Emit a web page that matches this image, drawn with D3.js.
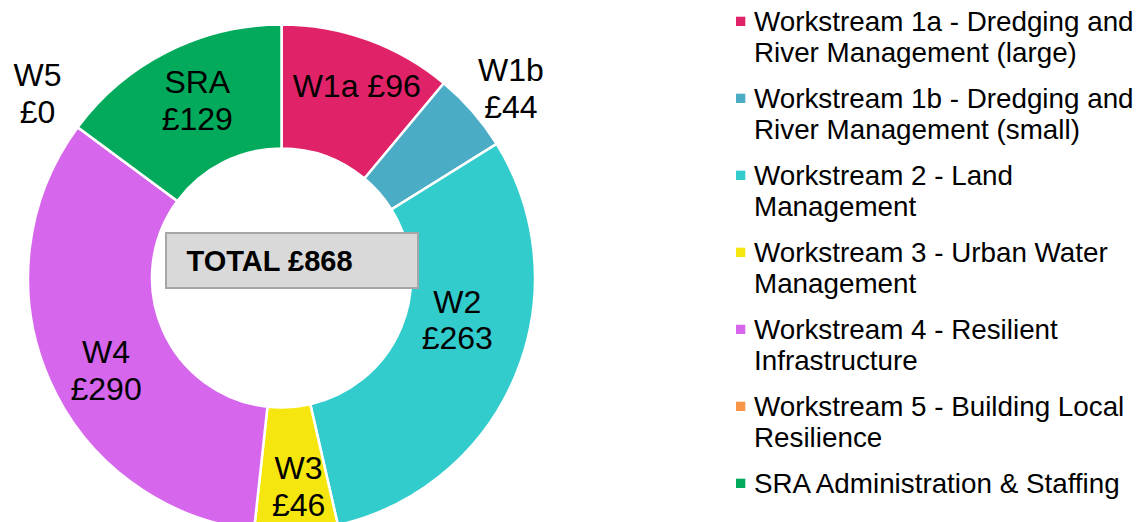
<!DOCTYPE html>
<html>
<head>
<meta charset="utf-8">
<script src="https://cdn.jsdelivr.net/npm/d3@7"></script>
<style>
  body { margin: 0; background: #fff; }
  svg text { font-family: "Liberation Sans", Arial, sans-serif; fill: #000; }
</style>
</head>
<body>
<svg id="chart" width="1140" height="522"></svg>
<script>
// chart data, clockwise from 12 o'clock
const keys = ["W1a", "W1b", "W2", "W3", "W4", "W5", "SRA"];
const values = [96, 44, 263, 46, 290, 0, 129];
const colors = ["#e02368", "#4bacc6", "#33cccc", "#f6e60f", "#d666ec", "#f79646", "#03aa5b"];
const legendLines = [
    ["Workstream 1a - Dredging and", "River Management (large)"],
    ["Workstream 1b - Dredging and", "River Management (small)"],
    ["Workstream 2 - Land", "Management"],
    ["Workstream 3 - Urban Water", "Management"],
    ["Workstream 4 - Resilient", "Infrastructure"],
    ["Workstream 5 - Building Local", "Resilience"],
    ["SRA Administration & Staffing"]
];
// labels that read on one line
const oneLine = ["W1a"];

let svg = d3.select("#chart");
let cx = 281.5, cy = 278;
let outerR = 253.5, innerR = 129.5;

let pie = d3.pie().sort(null).value(d => d.value);
let arcs = pie(keys.map((k, i) => ({key: k, value: values[i], color: colors[i]})));

let arc = d3.arc().innerRadius(innerR).outerRadius(outerR);

let g = svg.append("g").attr("transform", "translate(" + cx + "," + cy + ")");

g.selectAll("path")
    .data(arcs)
    .enter().append("path")
    .attr("d", arc)
    .style("fill", d => d.data.color)
    .style("stroke", "#fff")
    .style("stroke-width", 2.5);

// label placement: centroid of each slice, nudged to where the original sits
let nudge = {
    W1a: [10, -12], W1b: [85, -64], W2: [-1, -32], W3: [6, 17],
    W4: [0, 15], W5: [-90, -71], SRA: [2, -7]
};
let lineGap = 36.7;
let labelSize = 32;

arcs.forEach(function(d) {
    let c = arc.centroid(d);
    let n = nudge[d.data.key];
    let lx = c[0] + n[0], ly = c[1] + n[1];
    let lines = oneLine.includes(d.data.key)
        ? [d.data.key + " £" + d.data.value]
        : [d.data.key, "£" + d.data.value];
    let t = g.append("text")
        .attr("text-anchor", "middle")
        .style("font-size", labelSize + "px");
    lines.forEach(function(s, i) {
        t.append("tspan")
            .attr("x", lx)
            .attr("y", ly - (lines.length - 1) / 2 * lineGap + i * lineGap + labelSize * 0.358)
            .text(s);
    });
});

// total box in the hole
let total = d3.sum(values);
g.append("rect")
    .attr("x", -115.5)
    .attr("y", -45)
    .attr("width", 252)
    .attr("height", 55)
    .style("fill", "#d9d9d9")
    .style("stroke", "#a6a6a6")
    .style("stroke-width", 2);
g.append("text")
    .attr("x", -95)
    .attr("y", -7.5)
    .style("font-size", "29px")
    .style("font-weight", "bold")
    .text("TOTAL £" + total);

// legend
let legend = svg.append("g").attr("transform", "translate(736,0)");
let itemStep = 77, rowStep = 31, firstBase = 31;

let items = legend.selectAll("g.item")
    .data(legendLines)
    .enter().append("g")
    .attr("class", "item")
    .attr("transform", (d, i) => "translate(0," + (firstBase + i * itemStep) + ")");

items.append("rect")
    .attr("x", 0)
    .attr("y", -14.3)
    .attr("width", 9.3)
    .attr("height", 9.3)
    .style("fill", (d, i) => colors[i]);

items.each(function(lines) {
    let t = d3.select(this).append("text").style("font-size", "27.8px");
    lines.forEach(function(s, j) {
        t.append("tspan").attr("x", 18).attr("y", j * rowStep).text(s);
    });
});
</script>
</body>
</html>
